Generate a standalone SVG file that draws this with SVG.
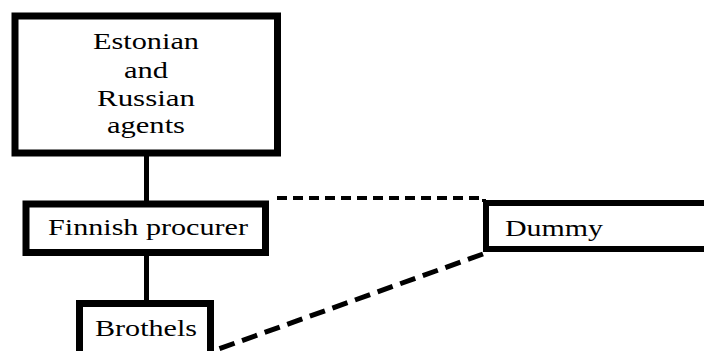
<svg xmlns="http://www.w3.org/2000/svg" width="704" height="351" viewBox="0 0 704 351">
<style>
.box{fill:#fff;stroke:#000;stroke-width:7}
.t{font-family:"Liberation Serif","Times New Roman",serif;font-size:24px;fill:#000}
.solid{stroke:#000;stroke-width:5;fill:none}
.dash1{stroke:#000;stroke-width:4;fill:none;stroke-dasharray:10 6}
.dash2{stroke:#000;stroke-width:5;fill:none;stroke-dasharray:16 8}
</style>
<rect width="704" height="351" fill="#fff"/>
<g id="connectors">
<line class="solid" x1="146.5" y1="156" x2="146.5" y2="201"/>
<line class="solid" x1="146.5" y1="255" x2="146.5" y2="301"/>
<polyline class="dash1" points="277,198 484,198 484,202"/>
<line class="dash2" x1="483" y1="254" x2="213" y2="351"/>
</g>
<g id="estonian">
<rect class="box" x="15" y="16" width="262.5" height="137"/>
<text class="t" x="146" y="49" text-anchor="middle" textLength="106" lengthAdjust="spacingAndGlyphs">Estonian</text>
<text class="t" x="146" y="77.5" text-anchor="middle" textLength="44" lengthAdjust="spacingAndGlyphs">and</text>
<text class="t" x="146" y="105.5" text-anchor="middle" textLength="98" lengthAdjust="spacingAndGlyphs">Russian</text>
<text class="t" x="146" y="133" text-anchor="middle" textLength="78" lengthAdjust="spacingAndGlyphs">agents</text>
</g>
<g id="finnish">
<rect class="box" x="26" y="204" width="239.5" height="48.5"/>
<text class="t" x="48" y="235" textLength="200" lengthAdjust="spacingAndGlyphs">Finnish procurer</text>
</g>
<g id="brothels">
<rect class="box" x="79.5" y="303.5" width="131" height="70"/>
<text class="t" x="95" y="335.5" textLength="102" lengthAdjust="spacingAndGlyphs">Brothels</text>
</g>
<g id="dummy">
<rect class="box" x="486" y="203" width="240" height="46" style="stroke-width:6"/>
<text class="t" x="505" y="235.5" textLength="98" lengthAdjust="spacingAndGlyphs">Dummy</text>
</g>
</svg>
